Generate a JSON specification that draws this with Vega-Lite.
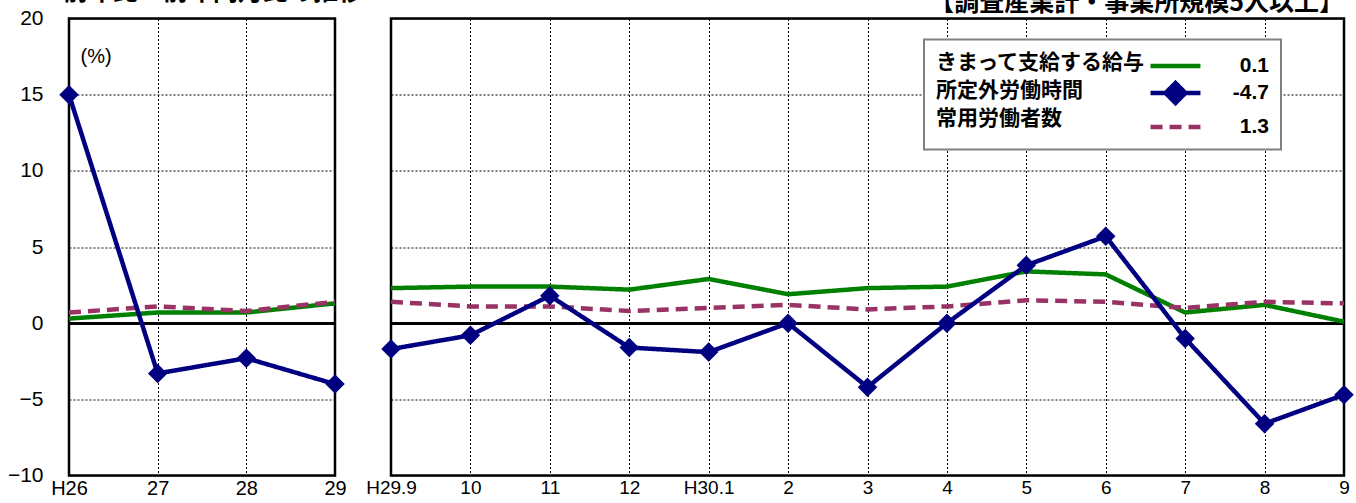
{
  "$schema": "https://vega.github.io/schema/vega-lite/v6.json",
  "padding": {"top": -21.5, "left": 6, "right": 8, "bottom": 2},
  "bounds": "flush",
  "spacing": 56,
  "background": "white",
  "datasets": {
    "annual": [
      {"period": "H26", "series": "きまって支給する給与", "value": 0.3},
      {"period": "27", "series": "きまって支給する給与", "value": 0.7},
      {"period": "28", "series": "きまって支給する給与", "value": 0.7},
      {"period": "29", "series": "きまって支給する給与", "value": 1.3},
      {"period": "H26", "series": "常用労働者数", "value": 0.7},
      {"period": "27", "series": "常用労働者数", "value": 1.1},
      {"period": "28", "series": "常用労働者数", "value": 0.8},
      {"period": "29", "series": "常用労働者数", "value": 1.4},
      {"period": "H26", "series": "所定外労働時間", "value": 15.0},
      {"period": "27", "series": "所定外労働時間", "value": -3.3},
      {"period": "28", "series": "所定外労働時間", "value": -2.3},
      {"period": "29", "series": "所定外労働時間", "value": -4.0}
    ],
    "monthly": [
      {"period": "H29.9", "series": "きまって支給する給与", "value": 2.3},
      {"period": "10", "series": "きまって支給する給与", "value": 2.4},
      {"period": "11", "series": "きまって支給する給与", "value": 2.4},
      {"period": "12", "series": "きまって支給する給与", "value": 2.2},
      {"period": "H30.1", "series": "きまって支給する給与", "value": 2.9},
      {"period": "2", "series": "きまって支給する給与", "value": 1.9},
      {"period": "3", "series": "きまって支給する給与", "value": 2.3},
      {"period": "4", "series": "きまって支給する給与", "value": 2.4},
      {"period": "5", "series": "きまって支給する給与", "value": 3.4},
      {"period": "6", "series": "きまって支給する給与", "value": 3.2},
      {"period": "7", "series": "きまって支給する給与", "value": 0.7},
      {"period": "8", "series": "きまって支給する給与", "value": 1.2},
      {"period": "9", "series": "きまって支給する給与", "value": 0.1},
      {"period": "H29.9", "series": "常用労働者数", "value": 1.4},
      {"period": "10", "series": "常用労働者数", "value": 1.1},
      {"period": "11", "series": "常用労働者数", "value": 1.1},
      {"period": "12", "series": "常用労働者数", "value": 0.8},
      {"period": "H30.1", "series": "常用労働者数", "value": 1.0},
      {"period": "2", "series": "常用労働者数", "value": 1.2},
      {"period": "3", "series": "常用労働者数", "value": 0.9},
      {"period": "4", "series": "常用労働者数", "value": 1.1},
      {"period": "5", "series": "常用労働者数", "value": 1.5},
      {"period": "6", "series": "常用労働者数", "value": 1.4},
      {"period": "7", "series": "常用労働者数", "value": 1.0},
      {"period": "8", "series": "常用労働者数", "value": 1.4},
      {"period": "9", "series": "常用労働者数", "value": 1.3},
      {"period": "H29.9", "series": "所定外労働時間", "value": -1.7},
      {"period": "10", "series": "所定外労働時間", "value": -0.8},
      {"period": "11", "series": "所定外労働時間", "value": 1.8},
      {"period": "12", "series": "所定外労働時間", "value": -1.6},
      {"period": "H30.1", "series": "所定外労働時間", "value": -1.9},
      {"period": "2", "series": "所定外労働時間", "value": 0.0},
      {"period": "3", "series": "所定外労働時間", "value": -4.2},
      {"period": "4", "series": "所定外労働時間", "value": 0.0},
      {"period": "5", "series": "所定外労働時間", "value": 3.8},
      {"period": "6", "series": "所定外労働時間", "value": 5.7},
      {"period": "7", "series": "所定外労働時間", "value": -1.0},
      {"period": "8", "series": "所定外労働時間", "value": -6.6},
      {"period": "9", "series": "所定外労働時間", "value": -4.7}
    ]
  },
  "config": {
    "view": {"stroke": "black", "strokeWidth": 2.5},
    "axis": {
      "labelFont": "Liberation Sans",
      "labelColor": "black",
      "gridColor": "black",
      "gridWidth": 1,
      "gridDash": [2, 2],
      "domain": false,
      "ticks": false
    },
    "title": {"font": "Noto Sans CJK JP", "fontSize": 25, "fontWeight": "bold", "color": "black", "offset": 2.5, "baseline": "bottom", "frame": "group"}
  },
  "resolve": {
    "scale": {"color": "independent", "strokeDash": "independent", "y": "independent", "x": "independent"},
    "legend": {"color": "independent", "strokeDash": "independent"}
  },
  "hconcat": [
    {
      "width": 266,
      "height": 457,
      "title": {"text": "前年比・前年同月比の推移", "anchor": "start", "dx": -6},
      "data": {"name": "annual"},
      "layer": [
        {
          "mark": {"type": "rule", "color": "black", "strokeWidth": 2},
          "encoding": {"y": {"datum": 0, "type": "quantitative"}}
        },
        {
          "mark": {"type": "line", "strokeWidth": 4.5},
          "encoding": {
            "x": {"field": "period", "type": "ordinal", "sort": null,
              "scale": {"type": "point", "padding": 0, "domain": ["H26", "27", "28", "29"]},
              "axis": {"title": null, "labelAngle": 0, "grid": true, "labelFontSize": 20, "labelPadding": 3}},
            "y": {"field": "value", "type": "quantitative",
              "scale": {"domain": [-10, 20], "nice": false, "zero": false},
              "axis": {"title": "(%)", "titleAngle": 0, "titleX": 11, "titleY": 38, "titleAlign": "left", "titleBaseline": "middle",
                "titleFont": "Liberation Sans", "titleFontSize": 20, "titleFontWeight": "normal", "titleColor": "black",
                "values": [-10, -5, 0, 5, 10, 15, 20], "labelFontSize": 21, "labelPadding": 26, "grid": true}},
            "color": {"field": "series", "type": "nominal",
              "scale": {"domain": ["きまって支給する給与", "所定外労働時間", "常用労働者数"], "range": ["#008000", "#000080", "#993366"]},
              "legend": null},
            "strokeDash": {"field": "series", "type": "nominal",
              "scale": {"domain": ["きまって支給する給与", "所定外労働時間", "常用労働者数"], "range": [[1, 0], [1, 0], [12, 7]]},
              "legend": null}
          }
        },
        {
          "transform": [{"filter": "datum.series === '所定外労働時間'"}],
          "mark": {"type": "point", "shape": "diamond", "filled": true, "size": 380, "color": "#000080", "opacity": 1},
          "encoding": {
            "x": {"field": "period", "type": "ordinal", "sort": null},
            "y": {"field": "value", "type": "quantitative"}
          }
        }
      ]
    },
    {
      "width": 953,
      "height": 457,
      "title": {"text": "【調査産業計・事業所規模5人以上】", "anchor": "end"},
      "data": {"name": "monthly"},
      "layer": [
        {
          "mark": {"type": "rule", "color": "black", "strokeWidth": 2},
          "encoding": {"y": {"datum": 0, "type": "quantitative"}}
        },
        {
          "mark": {"type": "line", "strokeWidth": 4.5},
          "encoding": {
            "x": {"field": "period", "type": "ordinal", "sort": null,
              "scale": {"type": "point", "padding": 0, "domain": ["H29.9", "10", "11", "12", "H30.1", "2", "3", "4", "5", "6", "7", "8", "9"]},
              "axis": {"title": null, "labelAngle": 0, "grid": true, "labelFontSize": 19, "labelPadding": 3}},
            "y": {"field": "value", "type": "quantitative",
              "scale": {"domain": [-10, 20], "nice": false, "zero": false},
              "axis": {"title": null, "labels": false, "values": [-10, -5, 0, 5, 10, 15, 20], "grid": true}},
            "color": {"field": "series", "type": "nominal",
              "scale": {"domain": ["きまって支給する給与", "所定外労働時間", "常用労働者数"], "range": ["#008000", "#000080", "#993366"]},
              "legend": {
                "orient": "none", "legendX": 533, "legendY": 21,
                "title": ["きまって支給する給与", "所定外労働時間", "常用労働者数"],
                "titleOrient": "left", "titlePadding": 15, "titleFont": "Noto Sans CJK JP", "titleFontSize": 21, "titleFontWeight": "bold",
                "titleColor": "black", "titleLineHeight": 28, "titleBaseline": "top", "titleAnchor": "start", "titleAlign": "left", "titleLimit": 400,
                "labelExpr": "datum.value === 'きまって支給する給与' ? '0.1' : datum.value === '所定外労働時間' ? '-4.7' : '1.3'",
                "labelFont": "Liberation Sans", "labelFontSize": 21, "labelFontWeight": "bold", "labelColor": "black",
                "labelAlign": "right", "labelOffset": 79, "symbolSize": 576, "symbolStrokeWidth": 4.5, "symbolType": "M-2.08,0H2.08",
                "rowPadding": -3, "padding": 12, "strokeColor": "#808080", "fillColor": "white", "labelLimit": 400,
                "encode": {
                  "legend": {"update": {"strokeWidth": {"value": 2}}},
                  "symbols": {"update": {
                    "shape": {"signal": "datum.value === '所定外労働時間' ? 'M-2.08,0H2.08M0,-0.83L0.83,0L0,0.83L-0.83,0Z' : 'M-2.08,0H2.08'"},
                    "fill": {"signal": "datum.value === '所定外労働時間' ? '#000080' : 'transparent'"}
                  }}
                }
              }},
            "strokeDash": {"field": "series", "type": "nominal",
              "scale": {"domain": ["きまって支給する給与", "所定外労働時間", "常用労働者数"], "range": [[1, 0], [1, 0], [12, 7]]}}
          }
        },
        {
          "transform": [{"filter": "datum.series === '所定外労働時間'"}],
          "mark": {"type": "point", "shape": "diamond", "filled": true, "size": 380, "color": "#000080", "opacity": 1},
          "encoding": {
            "x": {"field": "period", "type": "ordinal", "sort": null},
            "y": {"field": "value", "type": "quantitative"}
          }
        }
      ]
    }
  ]
}
